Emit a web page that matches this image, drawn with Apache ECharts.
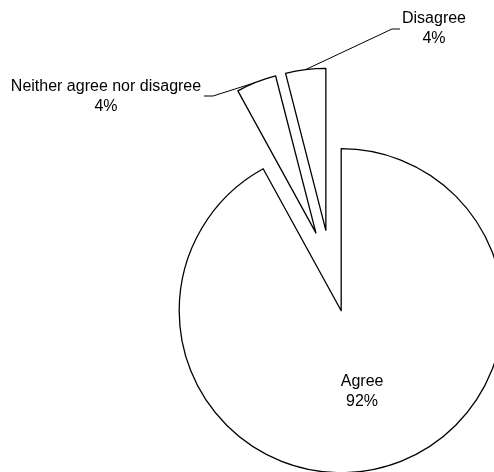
<!DOCTYPE html>
<html><head><meta charset="utf-8">
<script src="https://cdn.jsdelivr.net/npm/echarts@6/dist/echarts.min.js"></script>
<style>html,body{margin:0;padding:0;background:#fff}#c{width:494px;height:472px}</style>
</head><body><div id="c"></div>
<script>
const categories = ['Agree', 'Neither agree nor disagree', 'Disagree'];
const values = [92, 4, 4];
const labelSides = ['inside', 'outside', 'outside'];

// placement of the two outside labels (text centre, leader-line bend and end)
const outsideLabelPlacement = {
  1: { x: 106, y: 97, bend: [213, 96], end: [204, 96] },
  2: { x: 434, y: 29, bend: [392, 29], end: [400, 29] }
};

const pieCenter = [331, 271];
const pieRadius = 162;
const explode = 41;

const chart = echarts.init(document.getElementById('c'), null, { renderer: 'canvas' });
const textStyle = { fontFamily: 'Liberation Sans, Arial, sans-serif', fontSize: 16, lineHeight: 20, color: '#000' };

const total = values.reduce((a, b) => a + b, 0);
let cum = 0;
const series = categories.map((cat, k) => {
  const mid = (cum + values[k] / 2) / total * 2 * Math.PI;
  cum += values[k];
  const center = [pieCenter[0] + explode * Math.sin(mid), pieCenter[1] - explode * Math.cos(mid)];
  return {
    type: 'pie',
    center: center,
    radius: pieRadius,
    startAngle: 90,
    clockwise: true,
    percentPrecision: 0,
    silent: true,
    avoidLabelOverlap: false,
    emphasis: { disabled: true },
    labelLine: { length: 10, length2: 10, lineStyle: { color: '#000', width: 1 } },
    labelLayout: function (p) {
      const pl = outsideLabelPlacement[p.dataIndex];
      if (!pl || p.dataIndex !== k) return {};
      const start = p.labelLinePoints ? p.labelLinePoints[0] : pl.bend;
      return { x: pl.x, y: pl.y, align: 'center', verticalAlign: 'middle', labelLinePoints: [start, pl.bend, pl.end] };
    },
    data: categories.map((name, i) => ({
      name: name,
      value: values[i],
      itemStyle: i === k
        ? { color: '#fff', borderColor: '#000', borderWidth: 1.3 }
        : { color: 'rgba(0,0,0,0)', borderWidth: 0 },
      label: Object.assign({ show: i === k, position: labelSides[i], formatter: '{b}\n{d}%' }, textStyle),
      labelLine: { show: i === k && labelSides[i] === 'outside' }
    }))
  };
});

chart.setOption({ animation: false, backgroundColor: '#fff', series: series });
</script>
</body></html>
